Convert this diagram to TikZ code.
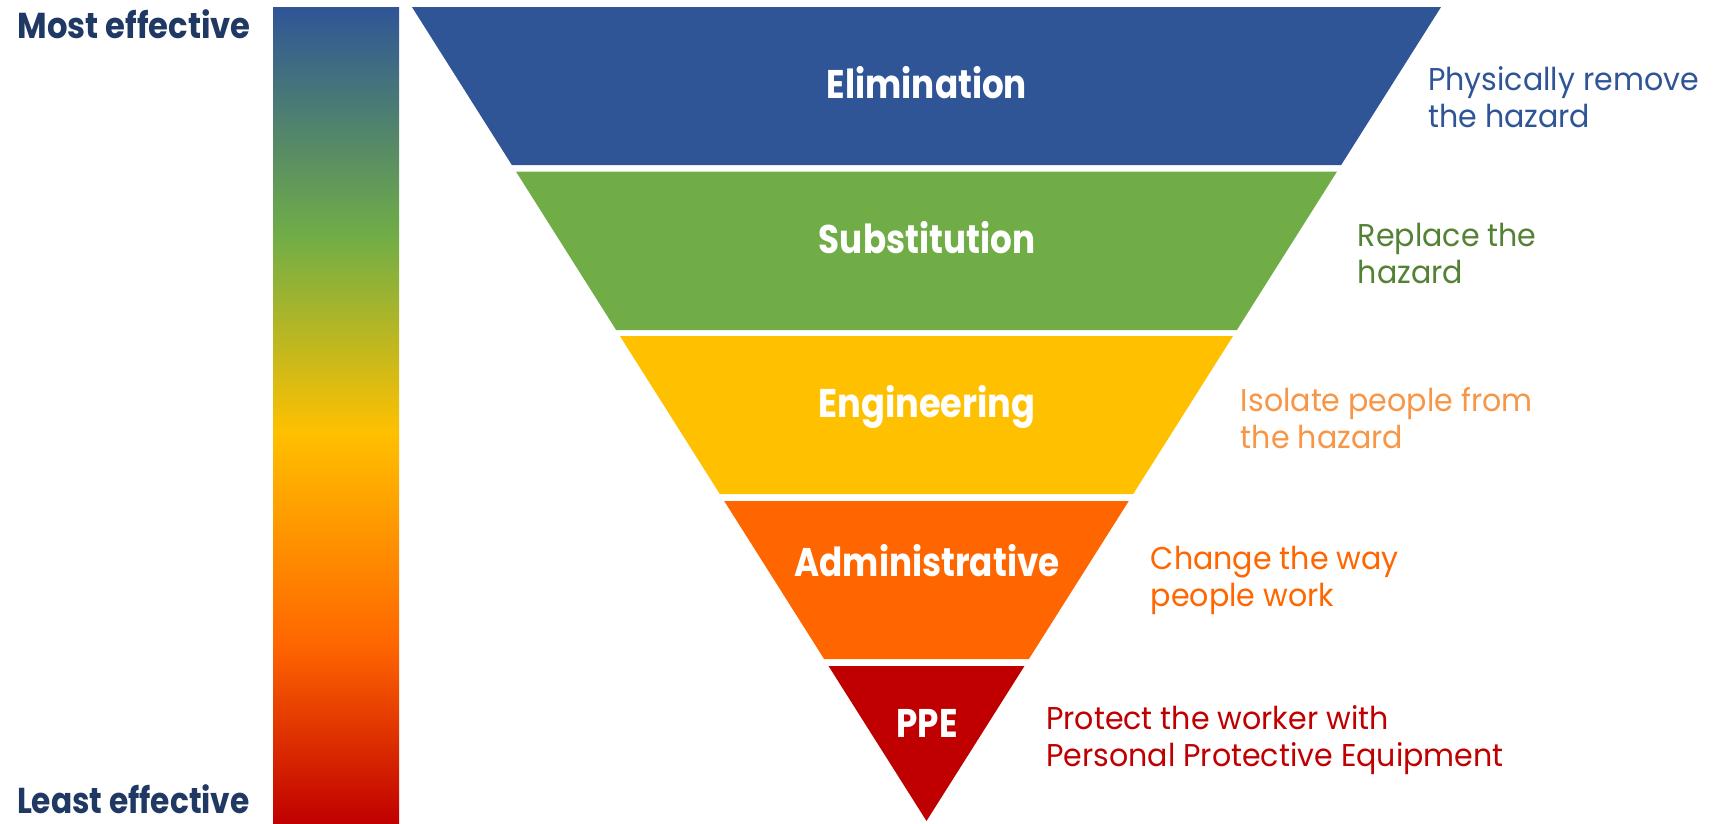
\documentclass[tikz,border=0pt]{standalone}
\usepackage{fontspec}
\usepackage{graphicx}
\setmainfont{Poppins}
\definecolor{cBlue}{HTML}{2F5597}
\definecolor{cGreen}{HTML}{70AD47}
\definecolor{cYellow}{HTML}{FFC000}
\definecolor{cOrange}{HTML}{FF6600}
\definecolor{cRed}{HTML}{C00000}
\definecolor{cNavy}{HTML}{1F3864}
\definecolor{tGreen}{HTML}{548235}
\definecolor{tOrange}{HTML}{F79646}
\pgfdeclareverticalshading{effgrad}{100bp}{color(0bp)=(cRed); color(25bp)=(cRed); color(36bp)=(cOrange); color(49bp)=(cYellow); color(61bp)=(cGreen); color(75bp)=(cBlue); color(100bp)=(cBlue)}
\newcommand\drawband[3]{%
  \pgfmathsetmacro\bandtop{(821-#1)*0.6321}%
  \pgfmathsetmacro\bandbot{(821-#2)*0.6321}%
  \fill[#3] (926.5-\bandtop,#1) -- (926.5+\bandtop,#1) -- (926.5+\bandbot,#2) -- (926.5-\bandbot,#2) -- cycle;}
\newcommand\sqz[2][0.855]{\scalebox{#1}[1]{#2}}
\newcommand\sidetext[2]{\scalebox{0.955}[1]{\begin{tabular}[t]{@{}l@{}}#1\\#2\end{tabular}}}
\begin{document}
\begin{tikzpicture}[x=1pt,y=-1pt,
  lbl/.style={font=\bfseries\fontsize{40}{48}\selectfont, text=white, inner sep=0pt, anchor=base},
  eff/.style={font=\bfseries\fontsize{36}{43}\selectfont, text=cNavy, inner sep=0pt, anchor=base east},
  side/.style={font=\fontsize{31.5}{37}\selectfont, inner sep=0pt, anchor=base west},
]
\useasboundingbox (0,0) rectangle (1714,823);
\fill[white] (0,0) rectangle (1714,823);
% effectiveness bar
\shade[shading=effgrad] (273,7) rectangle (399,823);
\node[eff] (most) at (251,38.3) {\sqz[0.895]{Most effective}};
\node[eff] (least) at (250,813) {\sqz[0.868]{Least effective}};
% inverted pyramid
\drawband{7}{165}{cBlue}
\drawband{171.5}{330}{cGreen}
\drawband{336}{494}{cYellow}
\drawband{501}{659}{cOrange}
\drawband{666}{821}{cRed}
\node[lbl] (elim) at (927,98.7) {\sqz{Elimination}};
\node[lbl] (subs) at (927,253.3) {\sqz{Substitution}};
\node[lbl] (engi) at (927,417.7) {\sqz[0.88]{Engineering}};
\node[lbl] (admi) at (927,576.5) {\sqz{Administrative}};
\node[lbl] (ppe) at (927,737) {\sqz{PPE}};
% descriptions
\node[side, text=cBlue] (d1) at (1428,90.7) {\sidetext{Physically remove}{the hazard}};
\node[side, text=tGreen] (d2) at (1357.6,246) {\sidetext{Replace the}{hazard}};
\node[side, text=tOrange] (d3) at (1240.7,411) {\sidetext{Isolate people from}{the hazard}};
\node[side, text=cOrange] (d4) at (1150.7,569) {\sidetext{Change the way}{people work}};
\node[side, text=cRed] (d5) at (1046,729) {\sidetext{Protect the worker with}{Personal Protective Equipment}};
\end{tikzpicture}
\end{document}
